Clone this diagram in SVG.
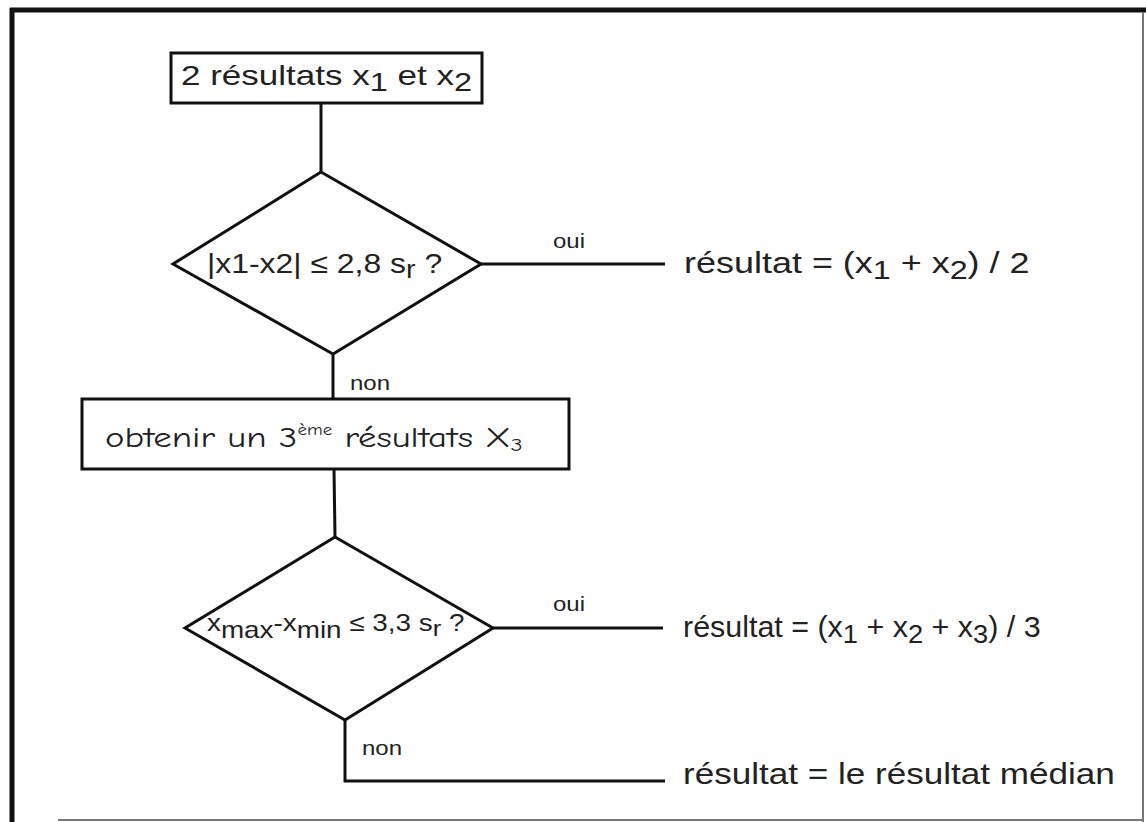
<svg xmlns="http://www.w3.org/2000/svg" width="1146" height="822" viewBox="0 0 1146 822">
<style>
.t{font-family:"Liberation Sans",Arial,sans-serif;fill:#222;}
.c{font-family:"Comic Neue","Liberation Sans",sans-serif;fill:#222;}
.shape{fill:#fff;stroke:#111;stroke-width:3;}
.ln{fill:none;stroke:#111;stroke-width:3;}
</style>
<rect width="1146" height="822" fill="#fff"/>
<g id="frame" fill="none">
<line x1="12" y1="8" x2="12" y2="822" stroke="#111" stroke-width="5"/>
<line x1="10" y1="10" x2="1146" y2="10" stroke="#111" stroke-width="5"/>
<line x1="1143" y1="12" x2="1143" y2="822" stroke="#777" stroke-width="2"/>
<line x1="58" y1="820" x2="1143" y2="820" stroke="#777" stroke-width="2"/>
</g>
<g id="connectors">
<line class="ln" x1="321" y1="103" x2="321" y2="172"/>
<line class="ln" x1="481" y1="264" x2="665" y2="264"/>
<line class="ln" x1="333" y1="354" x2="333" y2="399"/>
<line class="ln" x1="334" y1="469" x2="335" y2="537"/>
<line class="ln" x1="493" y1="628" x2="663" y2="628"/>
<polyline class="ln" points="345,720 345,781 665,781"/>
<text class="t" transform="translate(553,248) scale(1.2,1)" font-size="20">oui</text>
<text class="t" transform="translate(350,390) scale(1.2,1)" font-size="20">non</text>
<text class="t" transform="translate(553,611) scale(1.2,1)" font-size="20">oui</text>
<text class="t" transform="translate(362,755) scale(1.2,1)" font-size="20">non</text>
</g>
<g id="start">
<rect class="shape" x="171" y="53" width="311" height="50"/>
<text class="t" transform="translate(181,85) scale(1.25,1)" font-size="28">2 résultats x<tspan font-size="26" dy="6">1</tspan><tspan dy="-6"> et x</tspan><tspan font-size="26" dy="6">2</tspan></text>
</g>
<g id="decision1">
<polygon class="shape" points="321,172 481,264 333,354 173,264"/>
<text class="t" transform="translate(207,273) scale(1.14,1)" font-size="28">|x1-x2| ≤ 2,8 s<tspan dy="5" font-size="25">r</tspan><tspan dy="-5"> ?</tspan></text>
</g>
<g id="result1">
<text class="t" transform="translate(684,273) scale(1.24,1)" font-size="29">résultat = (x<tspan font-size="26" dy="6">1</tspan><tspan dy="-6"> + x</tspan><tspan font-size="26" dy="6">2</tspan><tspan dy="-6">) / 2</tspan></text>
</g>
<g id="third">
<rect class="shape" x="82" y="399" width="487" height="70"/>
<text class="c" transform="translate(105,447) scale(1.27,1)" font-size="29">obtenir un 3<tspan font-size="15" dy="-12">ème</tspan><tspan dy="12"> résultats X</tspan><tspan font-size="19" dy="4">3</tspan></text>
</g>
<g id="decision2">
<polygon class="shape" points="335,537 493,628 345,720 185,628"/>
<text class="t" transform="translate(207,631) scale(1.16,1)" font-size="24">x<tspan dy="7">max</tspan><tspan dy="-7">-x</tspan><tspan dy="7">min</tspan><tspan dy="-7"> ≤ 3,3 s</tspan><tspan dy="5" font-size="22">r</tspan><tspan dy="-5"> ?</tspan></text>
</g>
<g id="result2">
<text class="t" transform="translate(683,637) scale(1.05,1)" font-size="29">résultat = (x<tspan font-size="26" dy="6">1</tspan><tspan dy="-6"> + x</tspan><tspan font-size="26" dy="6">2</tspan><tspan dy="-6"> + x</tspan><tspan font-size="26" dy="6">3</tspan><tspan dy="-6">) / 3</tspan></text>
</g>
<g id="result3">
<text class="t" transform="translate(683,784) scale(1.21,1)" font-size="29">résultat = le résultat médian</text>
</g>
</svg>
